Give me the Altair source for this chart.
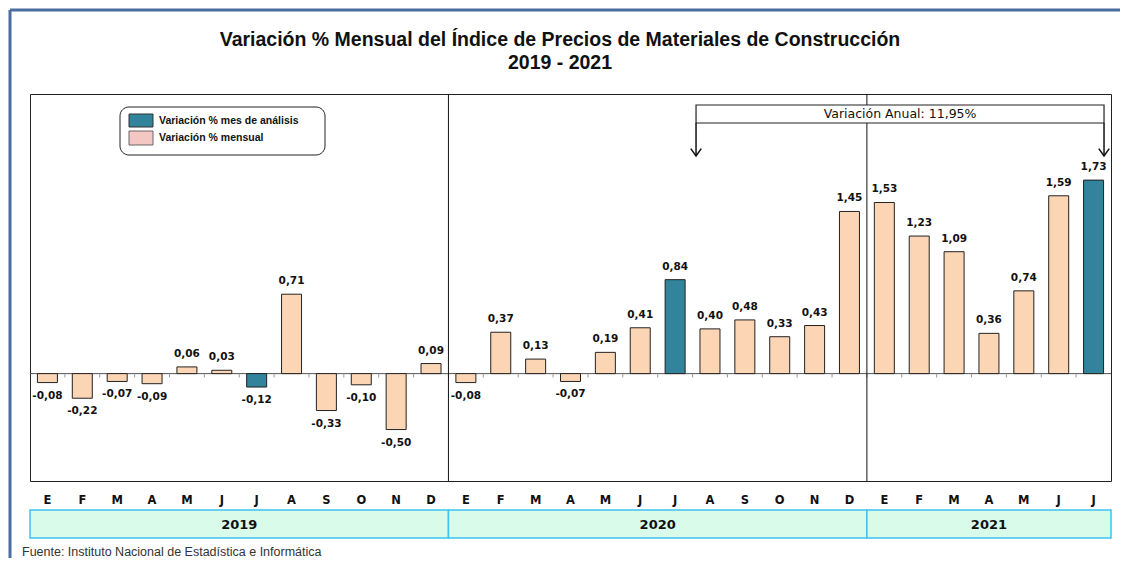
import altair as alt
import pandas as pd

# ---- data ----
months = ["E", "F", "M", "A", "M", "J", "J", "A", "S", "O", "N", "D",
          "E", "F", "M", "A", "M", "J", "J", "A", "S", "O", "N", "D",
          "E", "F", "M", "A", "M", "J", "J"]
years = ["2019"] * 12 + ["2020"] * 12 + ["2021"] * 7
values = [-0.08, -0.22, -0.07, -0.09, 0.06, 0.03, -0.12, 0.71, -0.33, -0.10, -0.50, 0.09,
          -0.08, 0.37, 0.13, -0.07, 0.19, 0.41, 0.84, 0.40, 0.48, 0.33, 0.43, 1.45,
          1.53, 1.23, 1.09, 0.36, 0.74, 1.59, 1.73]
highlight = [False] * 6 + [True] + [False] * 5 + \
            [False] * 6 + [True] + [False] * 5 + \
            [False] * 6 + [True]
year_names = ["2019", "2020", "2021"]
year_start = [0, 12, 24]
year_end = [11, 23, 30]
annual_span = [18.6, 30.3]  # arrow ends of the annual variation bracket
annual_text = "Variación Anual: 11,95%"
legend_labels = ["Variación % mes de análisis", "Variación % mensual"]
title_lines = ["Variación % Mensual del Índice de Precios de Materiales de Construcción",
               "2019 - 2021"]
source_text = "Fuente: Instituto Nacional de Estadística e Informática"

PEACH = "#fcd5b4"
TEAL = "#31849b"
PINK = "#f4c6c4"

df = pd.DataFrame({
    "idx": list(range(len(values))),
    "month": months,
    "year": years,
    "value": values,
    "kind": ["hl" if h else "normal" for h in highlight],
    "zero": [0.0] * len(values),
})
df["label"] = df["value"].map(lambda v: f"{v:.2f}".replace(".", ","))

W, H = 1081, 387
xs = alt.Scale(domain=[-0.5, len(values) - 0.5], nice=False, zero=False, padding=0)
ys = alt.Scale(domain=[-0.96, 2.5], nice=False, zero=False, padding=0)
X = lambda f: alt.X(f, type="quantitative", scale=xs, axis=None)
Y = lambda f: alt.Y(f, type="quantitative", scale=ys, axis=None)

one = pd.DataFrame({"a": [0]})

# frame
frame_top = alt.Chart(one).mark_rule(color="#4a6da0", strokeWidth=3).encode(
    x=alt.value(-20), x2=alt.value(1100), y=alt.value(-84))
frame_left = alt.Chart(one).mark_rule(color="#4a6da0", strokeWidth=3).encode(
    x=alt.value(-20), y=alt.value(-84), y2=alt.value(480))

# title
title1 = alt.Chart(one).mark_text(font="Liberation Sans", fontSize=19.5, fontWeight="bold",
                                  color="#111").encode(
    x=alt.value(530), y=alt.value(-54), text=alt.value(title_lines[0]))
title2 = alt.Chart(one).mark_text(font="Liberation Sans", fontSize=19.5, fontWeight="bold",
                                  color="#111").encode(
    x=alt.value(530), y=alt.value(-31), text=alt.value(title_lines[1]))

# zero line and ticks
zdf = pd.DataFrame({"z": [0.0]})
zero = alt.Chart(zdf).mark_rule(color="#555", strokeWidth=1).encode(
    y=Y("z"), x=alt.value(0), x2=alt.value(W))
bounds = pd.DataFrame({"b": [k + 0.5 for k in range(len(values) - 1)]})
bounds["z"] = 0.0
bounds["t"] = -0.035
ticks = alt.Chart(bounds).mark_rule(color="#999", strokeWidth=1).encode(
    x=X("b"), y=Y("z"), y2="t:Q")

# year dividers
dividers = alt.Chart(pd.DataFrame({"b": [s - 0.5 for s in year_start[1:]]})).mark_rule(
    color="#111", strokeWidth=1).encode(x=X("b"), y=alt.value(0), y2=alt.value(H))

# bars
bars = alt.Chart(df).mark_bar(size=20, stroke="#222", strokeWidth=1).encode(
    x=X("idx"), y=Y("value"), y2="zero:Q",
    color=alt.Color("kind:N", scale=alt.Scale(domain=["hl", "normal"], range=[TEAL, PEACH]),
                    legend=None))

lab_pos = alt.Chart(df).transform_filter("datum.value >= 0").mark_text(
    font="DejaVu Sans", fontSize=10.5, fontWeight="bold", baseline="bottom", dy=-8,
    color="#111").encode(x=X("idx"), y=Y("value"), text="label:N")
lab_neg = alt.Chart(df).transform_filter("datum.value < 0").mark_text(
    font="DejaVu Sans", fontSize=10.5, fontWeight="bold", baseline="top", dy=8,
    color="#111").encode(x=X("idx"), y=Y("value"), text="label:N")

# annual bracket
ann_df = pd.DataFrame({"x0": [annual_span[0]], "x1": [annual_span[1]],
                       "xm": [(annual_span[0] + annual_span[1]) / 2], "t": [annual_text]})
ann_box = alt.Chart(ann_df).mark_rect(fill="white", stroke="#222", strokeWidth=1.2).encode(
    x=X("x0"), x2="x1:Q", y=alt.value(11), y2=alt.value(29))
ann_txt = alt.Chart(ann_df).mark_text(font="DejaVu Sans", fontSize=12.5, color="#111").encode(
    x=X("xm"), y=alt.value(20), text="t:N")
arr_df = pd.DataFrame({"x": annual_span})
arr_line = alt.Chart(arr_df).mark_rule(color="#111", strokeWidth=1.5).encode(
    x=X("x"), y=alt.value(29), y2=alt.value(62))
arr_head = alt.Chart(arr_df).mark_point(shape="M-1,-1.4L0,0L1,-1.4", filled=False,
                                        stroke="#111", strokeWidth=1.5, size=110,
                                        opacity=1).encode(
    x=X("x"), y=alt.value(62))

# legend
leg_box = alt.Chart(one).mark_rect(fill="white", stroke="#222", strokeWidth=1,
                                   cornerRadius=9).encode(
    x=alt.value(90), x2=alt.value(295), y=alt.value(13), y2=alt.value(61))
leg_sw1 = alt.Chart(one).mark_rect(fill=TEAL, stroke="#333", strokeWidth=1).encode(
    x=alt.value(99), x2=alt.value(123), y=alt.value(20), y2=alt.value(33))
leg_sw2 = alt.Chart(one).mark_rect(fill=PINK, stroke="#666", strokeWidth=1).encode(
    x=alt.value(99), x2=alt.value(123), y=alt.value(37), y2=alt.value(51))
leg_t1 = alt.Chart(one).mark_text(font="Liberation Sans", fontSize=10.5, fontWeight="bold",
                                  align="left", color="#111").encode(
    x=alt.value(129), y=alt.value(27), text=alt.value(legend_labels[0]))
leg_t2 = alt.Chart(one).mark_text(font="Liberation Sans", fontSize=10.5, fontWeight="bold",
                                  align="left", color="#111").encode(
    x=alt.value(129), y=alt.value(44), text=alt.value(legend_labels[1]))

# month labels and year bands
mlab = alt.Chart(df).mark_text(font="DejaVu Sans", fontSize=11.5, fontWeight="bold",
                               color="#111").encode(
    x=X("idx"), y=alt.value(407), text="month:N")
ydf = pd.DataFrame({"year": year_names,
                    "x0": [s - 0.5 for s in year_start],
                    "x1": [e + 0.5 for e in year_end]})
ydf["xm"] = (ydf["x0"] + ydf["x1"]) / 2
yband = alt.Chart(ydf).mark_rect(fill="#d9fbe9", stroke="#3cc3f0", strokeWidth=1.5).encode(
    x=X("x0"), x2="x1:Q", y=alt.value(416), y2=alt.value(444))
ylab = alt.Chart(ydf).mark_text(font="DejaVu Sans", fontSize=13, fontWeight="bold",
                                color="#111").encode(
    x=X("xm"), y=alt.value(431), text="year:N")

src = alt.Chart(one).mark_text(font="Liberation Sans", fontSize=12.5, align="left",
                               color="#333").encode(
    x=alt.value(-8), y=alt.value(458), text=alt.value(source_text))

chart = alt.layer(
    frame_top, frame_left, title1, title2,
    zero, ticks, dividers, bars, lab_pos, lab_neg,
    ann_box, ann_txt, arr_line, arr_head,
    leg_box, leg_sw1, leg_sw2, leg_t1, leg_t2,
    yband, mlab, ylab, src,
).properties(
    width=W, height=H,
    autosize=alt.AutoSizeParams(type="none"),
    padding={"left": 22, "top": 86, "right": 9, "bottom": 77},
).configure_view(stroke="#222", strokeWidth=1)

chart.save("out.html", embed_options={"renderer": "svg", "actions": False})
